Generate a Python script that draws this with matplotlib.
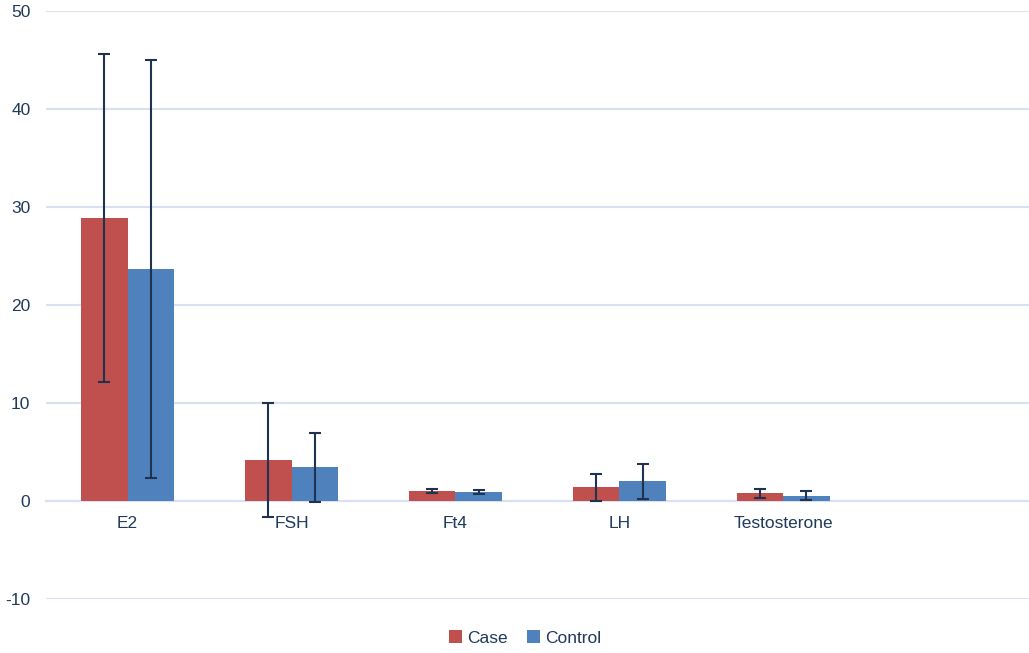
import numpy as np
import matplotlib.pyplot as plt

# hormone means and standard deviations
categories = ["E2", "FSH", "Ft4", "LH", "Testosterone", ""]
case_mean = [28.9, 4.15, 1.05, 1.38, 0.78]
case_sd = [16.75, 5.8, 0.19, 1.33, 0.43]
control_mean = [23.65, 3.43, 0.95, 2.0, 0.54]
control_sd = [21.35, 3.5, 0.2, 1.8, 0.44]
y_ticks = [-10, 0, 10, 20, 30, 40, 50]

RED = "#C0504D"
BLUE = "#4F81BD"
ERR = "#1F3350"
GRID = "#D9E2F3"
TEXT = "#1F3A5C"


def plotChart():
    plt.rcParams['font.family'] = ['Liberation Sans', 'DejaVu Sans']
    fig = plt.figure(figsize=(10.29, 6.53), dpi=100)
    ax = fig.add_axes([0.0444, 0.0827, 0.9556, 0.9005])

    width = 0.284
    x = np.arange(len(case_mean))
    errStyle = dict(ecolor=ERR, elinewidth=1.5, capsize=4, capthick=1.5)
    ax.bar(x - width / 2, case_mean, width, color=RED, label="Case",
           yerr=case_sd, error_kw=errStyle, zorder=3)
    ax.bar(x + width / 2, control_mean, width, color=BLUE, label="Control",
           yerr=control_sd, error_kw=errStyle, zorder=3)

    ax.set_xlim(-0.5, len(categories) - 0.5)
    ax.set_ylim(-10, 50)
    ax.set_yticks(y_ticks)
    ax.set_yticklabels([str(t) for t in y_ticks])
    ax.set_xticks(np.arange(len(categories)))
    ax.set_xticklabels(categories)

    # grid lines in light blue, category axis sits at zero
    ax.grid(axis='y', color=GRID, linewidth=1.5, zorder=0)
    for side in ['top', 'right', 'left']:
        ax.spines[side].set_visible(False)
    ax.spines['bottom'].set_position(('data', 0))
    ax.spines['bottom'].set_color(GRID)
    ax.spines['bottom'].set_linewidth(1.5)
    ax.spines['bottom'].set_zorder(2)
    ax.tick_params(axis='both', length=0, labelsize=12.5, colors=TEXT)
    ax.tick_params(axis='y', pad=11)
    ax.tick_params(axis='x', pad=11)

    fig.legend(loc='center', bbox_to_anchor=(525 / 1029, 1 - 638 / 653),
               ncol=2, frameon=False, fontsize=12.5, handlelength=0.75,
               handleheight=0.75, handletextpad=0.3, columnspacing=1.1,
               labelcolor=TEXT)

    fig.savefig("out.png", dpi=100)


def main():
    plotChart()


if __name__ == '__main__':
    main()
